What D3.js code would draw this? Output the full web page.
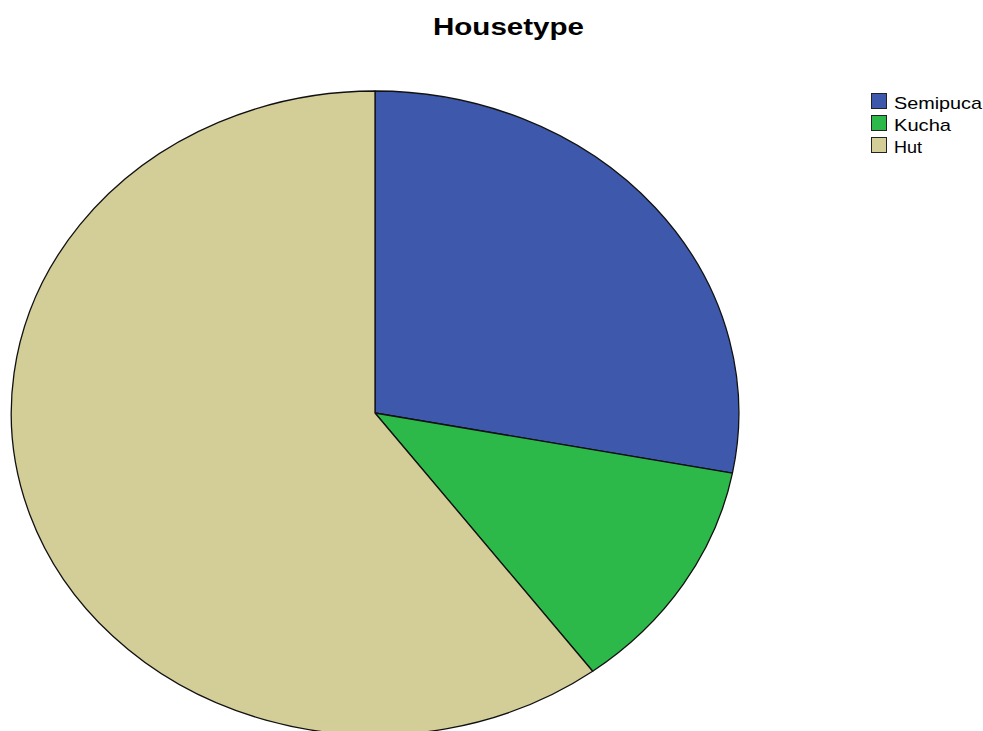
<!DOCTYPE html>
<html>
<head>
<meta charset="utf-8">
<script src="https://cdn.jsdelivr.net/npm/d3@7"></script>
<style>
  html, body { margin: 0; padding: 0; background: #fff; }
  svg { display: block; }
</style>
</head>
<body>
<svg id="chart" width="983" height="731"></svg>
<script>
// Housetype shares (percent)
const categories = ["Semipuca", "Kucha", "Hut"];
const values = [28.0, 11.8, 60.2];
const colors = ["#3e58ac", "#2db84a", "#d3ce98"];

const svg = d3.select("#chart");
const FONT = "Liberation Sans, Arial, sans-serif";

// Title, drawn wide like the rest of the stretched layout
svg.append("text")
  .attr("x", 433).attr("y", 35)
  .attr("font-family", FONT)
  .attr("font-weight", "bold")
  .attr("font-size", 23)
  .attr("textLength", 151)
  .attr("lengthAdjust", "spacingAndGlyphs")
  .attr("fill", "#000")
  .text("Housetype");

const data = categories.map((c, i) => ({ name: c, value: values[i], color: colors[i] }));

const pie = d3.pie().value(d => d.value).sort(null);
const arc = d3.arc().innerRadius(0).outerRadius(1);

// Elliptical pie: unit arcs stretched to the plot's horizontal and vertical radii
const cx = 375, cy = 413, rx = 364, ry = 322;
const g = svg.append("g").attr("transform", `translate(${cx},${cy}) scale(${rx},${ry})`);

g.selectAll("path")
  .data(pie(data))
  .join("path")
  .attr("d", arc)
  .attr("fill", d => d.data.color)
  .attr("stroke", "#111")
  .attr("stroke-width", 1.3)
  .attr("vector-effect", "non-scaling-stroke")
  .attr("stroke-linejoin", "round");

// Legend
const legendWidths = [88, 57, 28];
const legend = svg.append("g").attr("transform", "translate(871,93)");
const rows = legend.selectAll("g")
  .data(data)
  .join("g")
  .attr("transform", (d, i) => `translate(0,${i * 22})`);

rows.append("rect")
  .attr("x", 0.5).attr("y", 0.5)
  .attr("width", 15).attr("height", 15)
  .attr("fill", d => d.color)
  .attr("stroke", "#222")
  .attr("stroke-width", 1);

rows.append("text")
  .attr("x", 23).attr("y", 16)
  .attr("font-family", FONT)
  .attr("font-size", 17)
  .attr("textLength", (d, i) => legendWidths[i])
  .attr("lengthAdjust", "spacingAndGlyphs")
  .attr("fill", "#000")
  .text(d => d.name);
</script>
</body>
</html>
